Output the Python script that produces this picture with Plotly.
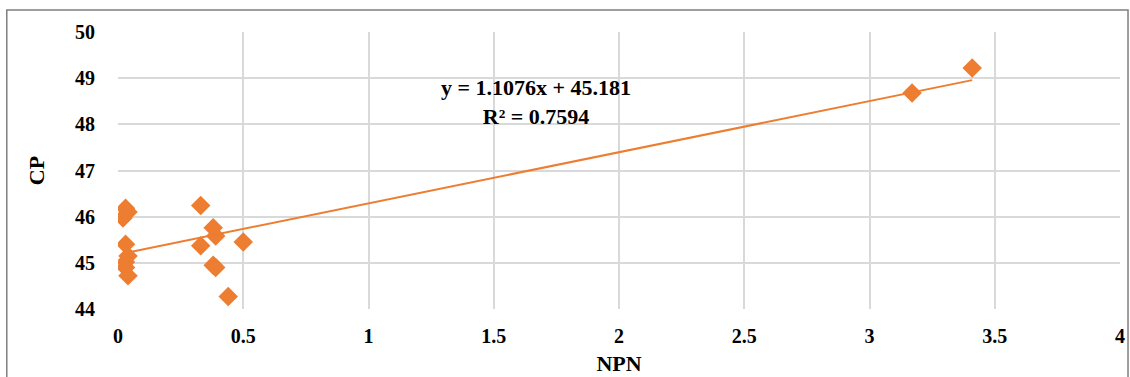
import plotly.graph_objects as go

npn = [0.03, 0.04, 0.02, 0.03, 0.04, 0.03, 0.03, 0.04,
       0.33, 0.33, 0.38, 0.39, 0.38, 0.39, 0.50, 0.44,
       3.17, 3.41]
cp = [46.18, 46.10, 45.97, 45.40, 45.15, 45.02, 44.90, 44.72,
      46.24, 45.37, 45.76, 45.58, 44.95, 44.90, 45.45, 44.27,
      48.68, 49.22]

slope = 1.1076
intercept = 45.181
eq_text = "<b>y = 1.1076x + 45.181<br>R² = 0.7594</b>"

orange = "#ED7D31"
grid = "#D9D9D9"
font_fam = "Liberation Serif, Times New Roman, serif"

x0, x1 = min(npn), max(npn)

fig = go.Figure()
fig.add_trace(go.Scatter(
    x=npn, y=cp, mode="markers",
    marker=dict(symbol="diamond", size=15, color=orange),
    showlegend=False, hoverinfo="x+y"))
fig.add_trace(go.Scatter(
    x=[x0, x1], y=[slope * x0 + intercept, slope * x1 + intercept],
    mode="lines", line=dict(color=orange, width=2),
    showlegend=False))

fig.add_annotation(
    x=1.67, y=48.48, xref="x", yref="y", text=eq_text, showarrow=False,
    font=dict(family=font_fam, size=22, color="#000000"), align="center")

fig.add_shape(type="rect", xref="paper", yref="paper",
              x0=-0.111, x1=1.008, y0=-0.4, y1=1.079,
              line=dict(color="#7F7F7F", width=1.5), fillcolor="rgba(0,0,0,0)",
              layer="below")

fig.update_layout(
    width=1130, height=377,
    margin=dict(l=118, r=10, t=32, b=68, autoexpand=False),
    paper_bgcolor="white", plot_bgcolor="white",
    font=dict(family=font_fam, color="#000000"),
    xaxis=dict(range=[0, 4], dtick=0.5, tick0=0, showgrid=True,
               gridcolor=grid, gridwidth=2, zeroline=False,
               showline=False, ticks="", automargin=False,
               ticklabelstandoff=13,
               tickfont=dict(family=font_fam, size=20, color="#000000", weight="bold"),
               title=dict(text="<b>NPN</b>", font=dict(family=font_fam, size=22), standoff=9)),
    yaxis=dict(range=[44, 50], dtick=1, showgrid=True,
               gridcolor=grid, gridwidth=2, zeroline=False,
               showline=False, ticks="", automargin=False,
               ticklabelstandoff=22,
               tickfont=dict(family=font_fam, size=20, color="#000000", weight="bold"),
               title=dict(text="<b>CP</b>", font=dict(family=font_fam, size=22), standoff=24)),
)

fig.write_html("out.html", post_script="document.body.style.margin='0';",
               config={"displayModeBar": False})
